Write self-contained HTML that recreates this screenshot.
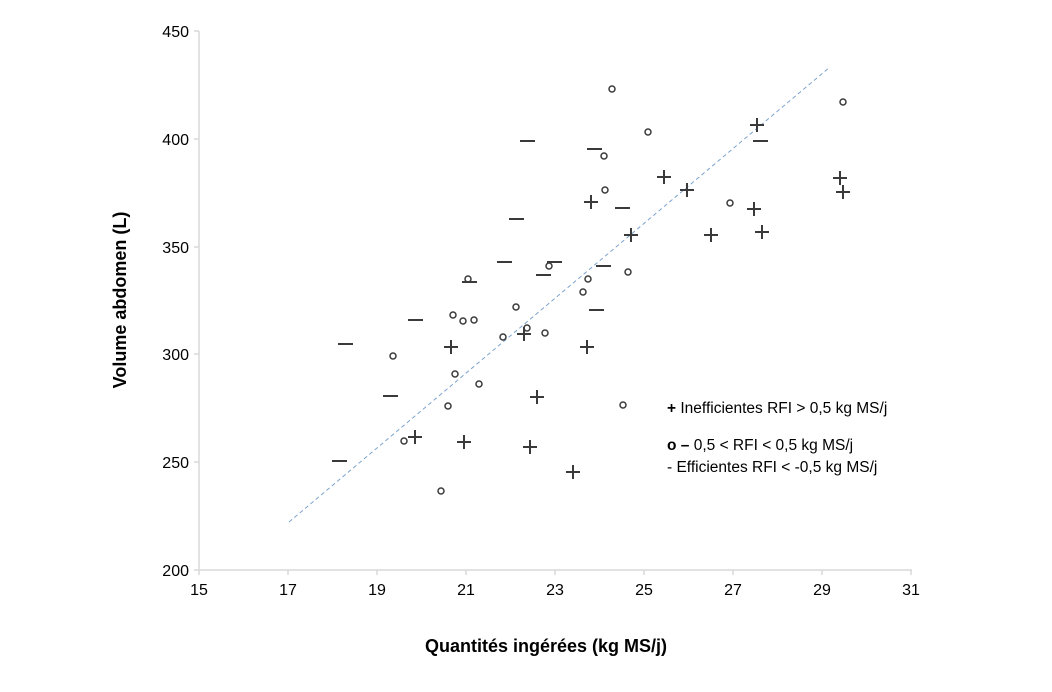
<!DOCTYPE html>
<html><head><meta charset="utf-8"><style>
body{margin:0;background:#fff;}
svg text{font-family:"Liberation Sans",Arial,sans-serif;fill:#000;}
</style></head><body>
<svg width="1052" height="687" viewBox="0 0 1052 687" xmlns="http://www.w3.org/2000/svg">
<g stroke="#d9d9d9" stroke-width="1.5">
<line x1="199" y1="31" x2="199" y2="570"/>
<line x1="194" y1="570" x2="912" y2="570"/>
<line x1="194" y1="31" x2="199" y2="31"/><line x1="194" y1="139" x2="199" y2="139"/><line x1="194" y1="247" x2="199" y2="247"/><line x1="194" y1="354" x2="199" y2="354"/><line x1="194" y1="462" x2="199" y2="462"/>
<line x1="199" y1="570" x2="199" y2="575"/><line x1="288" y1="570" x2="288" y2="575"/><line x1="377" y1="570" x2="377" y2="575"/><line x1="466" y1="570" x2="466" y2="575"/><line x1="555" y1="570" x2="555" y2="575"/><line x1="644" y1="570" x2="644" y2="575"/><line x1="733" y1="570" x2="733" y2="575"/><line x1="822" y1="570" x2="822" y2="575"/><line x1="911" y1="570" x2="911" y2="575"/>
</g>
<g font-size="16" text-anchor="end">
<text x="189" y="37">450</text><text x="189" y="145">400</text><text x="189" y="253">350</text><text x="189" y="360">300</text><text x="189" y="468">250</text><text x="189" y="576">200</text>
</g>
<g font-size="16" text-anchor="middle">
<text x="199" y="595">15</text><text x="288" y="595">17</text><text x="377" y="595">19</text><text x="466" y="595">21</text><text x="555" y="595">23</text><text x="644" y="595">25</text><text x="733" y="595">27</text><text x="822" y="595">29</text><text x="911" y="595">31</text>
</g>
<line x1="289" y1="522" x2="830" y2="67" stroke="#7ba3cf" stroke-width="1" stroke-dasharray="4,3"/>
<g stroke="#3a3a3a" stroke-width="2" fill="none">
<path d="M444 347h14M451 340v14M408 437h14M415 430v14M457 442h14M464 435v14M517 334h14M524 327v14M530 397h14M537 390v14M523 447h14M530 440v14M566 472h14M573 465v14M580 347h14M587 340v14M584 202h14M591 195v14M657 177h14M664 170v14M680 190h14M687 183v14M624 235h14M631 228v14M704 235h14M711 228v14M750 125h14M757 118v14M747 209h14M754 202v14M755 232h14M762 225v14M833 178h14M840 171v14M836 192h14M843 185v14"/>
<path d="M338 344h15M383 396h15M332 461h15M408 320h15M462 282h15M497 262h15M509 219h15M520 141h15M536 275h15M547 262h15M587 149h15M596 266h15M615 208h15M589 310h15M753 141h15"/>
</g>
<g stroke="#3a3a3a" stroke-width="1.5" fill="none">
<circle cx="393" cy="356" r="3"/><circle cx="404" cy="441" r="3"/><circle cx="453" cy="315" r="3"/><circle cx="455" cy="374" r="3"/><circle cx="448" cy="406" r="3"/><circle cx="441" cy="491" r="3"/><circle cx="463" cy="321" r="3"/><circle cx="474" cy="320" r="3"/><circle cx="479" cy="384" r="3"/><circle cx="503" cy="337" r="3"/><circle cx="516" cy="307" r="3"/><circle cx="527" cy="328" r="3"/><circle cx="545" cy="333" r="3"/><circle cx="549" cy="266" r="3"/><circle cx="583" cy="292" r="3"/><circle cx="588" cy="279" r="3"/><circle cx="604" cy="156" r="3"/><circle cx="605" cy="190" r="3"/><circle cx="628" cy="272" r="3"/><circle cx="623" cy="405" r="3"/><circle cx="612" cy="89" r="3"/><circle cx="648" cy="132" r="3"/><circle cx="730" cy="203" r="3"/><circle cx="843" cy="102" r="3"/><circle cx="468" cy="279" r="3"/>
</g>
<g font-size="15.5">
<text x="667" y="413"><tspan font-weight="bold">+</tspan> Inefficientes RFI &gt; 0,5 kg MS/j</text>
<text x="667" y="450"><tspan font-weight="bold">o  –</tspan> 0,5 &lt; RFI &lt; 0,5 kg MS/j</text>
<text x="667" y="472">-  Efficientes RFI &lt; -0,5 kg MS/j</text>
</g>
<text x="546" y="652" font-size="18" font-weight="bold" text-anchor="middle">Quantités ingérées (kg MS/j)</text>
<text transform="translate(126,300) rotate(-90)" font-size="18" font-weight="bold" text-anchor="middle">Volume abdomen (L)</text>
</svg>
</body></html>
